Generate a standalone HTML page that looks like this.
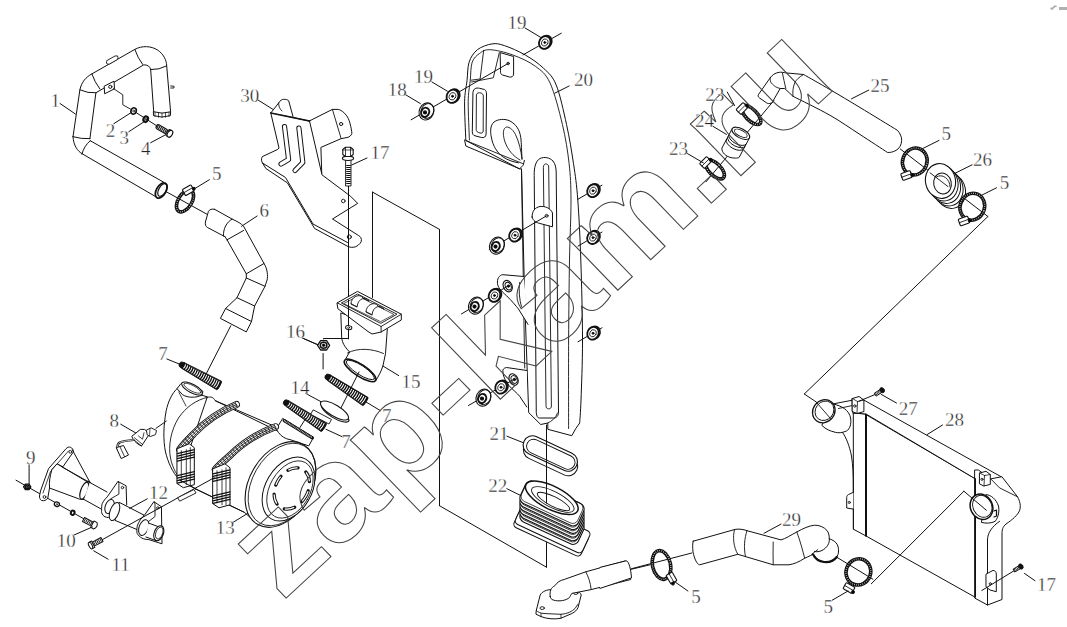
<!DOCTYPE html>
<html><head><meta charset="utf-8"><style>
html,body{margin:0;padding:0;background:#fff;width:1067px;height:627px;overflow:hidden}
svg{display:block}
</style></head><body>
<svg width="1067" height="627" viewBox="0 0 1067 627">
<rect width="1067" height="627" fill="#fff"/>
<g stroke="#111" fill="none" stroke-linejoin="round" stroke-linecap="round">
<line x1="60" y1="103.5" x2="75.4" y2="114" stroke-width="1"/>
<line x1="113.8" y1="123.7" x2="130.8" y2="112.8" stroke-width="1"/>
<line x1="128.8" y1="131.7" x2="145.7" y2="120.7" stroke-width="1"/>
<line x1="150.7" y1="142.7" x2="165.7" y2="134.7" stroke-width="1"/>
<line x1="209.4" y1="179.7" x2="190.7" y2="191.1" stroke-width="1"/>
<line x1="257.1" y1="216" x2="241.5" y2="226.3" stroke-width="1"/>
<line x1="258" y1="100" x2="274" y2="110" stroke-width="1"/>
<line x1="367" y1="158" x2="351.7" y2="165" stroke-width="1"/>
<line x1="302.3" y1="338" x2="318.8" y2="345.2" stroke-width="1"/>
<line x1="166.9" y1="359" x2="182.9" y2="365.5" stroke-width="1"/>
<line x1="304.4" y1="338.9" x2="318.8" y2="345.2" stroke-width="1"/>
<line x1="305.8" y1="393.5" x2="321.6" y2="402" stroke-width="1"/>
<line x1="380.5" y1="410.7" x2="366.1" y2="402" stroke-width="1"/>
<line x1="326" y1="429.3" x2="341.7" y2="436.5" stroke-width="1"/>
<path d="M73,136.7 L79.9,89.8 C81.5,82 86,77 91.9,73.9 L134.8,49.4 C142,45.5 151,45.8 157.5,50 C163.5,54 166.5,60 166.7,65.9 L170.6,111.8" stroke-width="1" fill="none" />
<path d="M153.7,111.8 L150.7,69.9 C150.2,66.5 147.5,64.6 143.7,64.9 L95.9,92.8 L89.9,138.7" stroke-width="1" fill="none" />
<path d="M73,136.7 C73.5,145 77,151 82.9,154.2 L157.5,197.7" stroke-width="1" fill="none" />
<path d="M90.2,140.7 L163.7,182.2" stroke-width="1" fill="none" />
<path d="M79.9,89.8 Q88,93.5 95.9,92.8" stroke-width="1" fill="none" />
<path d="M91.9,73.9 Q94.5,82 99.9,89" stroke-width="1" fill="none" />
<path d="M134.8,49.4 Q137.5,57.5 142.7,64.5" stroke-width="1" fill="none" />
<path d="M150.7,69.6 Q159,70 166.7,65.9" stroke-width="1" fill="none" />
<path d="M73,136.7 Q81,139 89.9,138.7" stroke-width="1" fill="none" />
<path d="M90.2,140.7 Q84,146 81.9,154.2" stroke-width="1" fill="none" />
<ellipse cx="161.2" cy="190.5" rx="4.8" ry="8.4" transform="rotate(30 161.2 190.5)" stroke-width="1.8" fill="#fff" />
<ellipse cx="162.4" cy="189.9" rx="3.6" ry="7" transform="rotate(30 162.4 189.9)" stroke-width="1.2" fill="none" />
<path d="M153.7,111.8 Q162,114.5 170.6,111.8 L170.4,115.6 Q162,118.5 153.9,115.8 Z" stroke-width="1" fill="#fff" />
<line x1="155.0" y1="112.5" x2="155.0" y2="116.5" stroke-width="0.7"/>
<line x1="158.5" y1="113.1" x2="158.5" y2="117.3" stroke-width="0.7"/>
<line x1="162.0" y1="113.1" x2="162.0" y2="117.3" stroke-width="0.7"/>
<line x1="165.5" y1="113.1" x2="165.5" y2="117.3" stroke-width="0.7"/>
<line x1="169.0" y1="112.5" x2="169.0" y2="116.5" stroke-width="0.7"/>
<path d="M170.6,86 L174,86.2 L174,88 L170.7,88" stroke-width="0.9" fill="none" />
<path d="M107,60.5 L115,56 Q118.5,55 118,57.5 L117.5,59.5 L109.5,64 Q106,65 106.5,62 Z" stroke-width="0.9" fill="#fff" />
<path d="M104.5,86 L114,81.2 L114.5,88.8 L105,93.6 Z" stroke-width="1" fill="#fff" />
<circle cx="110.3" cy="86.8" r="1.6" stroke-width="1" fill="none"/>
<path d="M113.5,88.6 L122.8,94.8 L122.8,104.8 L131.8,109.8" stroke-width="0.9" fill="none" />
<line x1="131.8" y1="109.8" x2="157" y2="126" stroke-width="1"/>
<ellipse cx="133.6" cy="111" rx="2.6" ry="3.2" transform="rotate(20 133.6 111)" stroke-width="1.6" fill="#fff" />
<circle cx="133.6" cy="111" r="0.9" stroke-width="0.8" fill="none"/>
<ellipse cx="145.7" cy="119.2" rx="2.2" ry="2.8" transform="rotate(20 145.7 119.2)" stroke-width="2.2" fill="#fff" />
<circle cx="145.7" cy="119.2" r="0.7" stroke-width="0.8" fill="none"/>
<g transform="translate(156.5 126) rotate(30)"><rect x="0" y="-2.2" width="12" height="4.4" rx="1.5" fill="#fff" stroke-width="1.1"/><line x1="0.8" y1="0" x2="11.5" y2="0" stroke-width="3.4" stroke-dasharray="1.1 0.7" stroke-linecap="butt"/><ellipse cx="14" cy="0" rx="2" ry="3.6" fill="#fff" stroke-width="1"/><ellipse cx="15.5" cy="0" rx="2.4" ry="3.7" fill="#fff" stroke-width="1.2"/></g>
<line x1="165.8" y1="191.5" x2="208.4" y2="215" stroke-width="1"/>
<ellipse cx="185" cy="201" rx="6.8" ry="12" transform="rotate(32 185 201)" stroke-width="3.6" fill="none" />
<ellipse cx="185" cy="201" rx="6.8" ry="12" transform="rotate(32 185 201)" stroke-width="1.3" fill="none" stroke="#fff" stroke-dasharray="0.6 1.5" stroke-linecap="butt"/>
<g transform="translate(188.2 190.2) rotate(-30)"><rect x="-5" y="-3.5" width="10" height="7" rx="1" fill="#fff" stroke-width="1.1"/><line x1="-5" y1="0" x2="5" y2="0" stroke-width="0.8"/><circle cx="5.5" cy="1.5" r="1.4" fill="#000"/></g>
<path d="M214.6,209.3 C212,208.5 209.5,209.5 208.4,211.5 L205.4,222 C205,224.5 205.8,226.5 207.3,227.4 L225,236.7" stroke-width="1" fill="#fff" />
<path d="M214.6,209.3 L232.2,219.1 C237.5,221.5 241.5,223.8 243.6,226.3 L264,263.5 C267.5,269 268,276 267.1,280 L265,286.3 L254.6,306 L251.5,321.5 L246.3,331.9 L220.4,318.4 L225.6,308.5 L237,297.7 L246.3,278 L246.3,273.8 L227,239.8 L225,236.7" stroke-width="1" fill="none" />
<path d="M232.2,219.1 C226.5,222 223,229 223.5,236" stroke-width="1" fill="none" />
<line x1="227" y1="239.8" x2="243.6" y2="230.5" stroke-width="1"/>
<line x1="246.3" y1="273.8" x2="264" y2="263.5" stroke-width="1"/>
<line x1="246.3" y1="278" x2="265" y2="286.3" stroke-width="1"/>
<line x1="237" y1="297.7" x2="254.6" y2="306" stroke-width="1"/>
<line x1="225.6" y1="308.5" x2="251.5" y2="321.5" stroke-width="1"/>
<line x1="230.8" y1="325.7" x2="205.9" y2="374.4" stroke-width="1"/>
<path d="M270.8,113 L279,148 L277.8,149.4 L262.3,156.6 C261,158.5 261.5,162 262.5,163 L265.9,168.5 L287.4,182.9 L314.6,228.5 L348,246.5 C353,248.5 358,247 361.2,241.7 C362,238.5 360.5,236.5 358.5,235.5 L332.5,219 L357.7,203.4 L350.5,196.2 L321.8,174.7 L320.9,147.4 L341,138.7 L348.1,137.3 C351,136 352.5,134 351.7,131.6 C350.5,124 349,119 346.7,115.8 C344,112 341,110 338.2,109.4 L332.4,109.4 L309.5,120.9 Z" stroke-width="1" fill="#fff" />
<path d="M262.5,163 L285.5,177.5 L313,224 L347.5,242.5" stroke-width="1" fill="none" />
<path d="M270.8,113 L278.7,102.9 C280,100.5 282,99.3 283.7,99.3 C286,99.3 288,99.8 288.7,100.8 L293,116.6" stroke-width="1" fill="#fff" />
<path d="M278.7,102.9 C278.5,106 279.5,109 282,111" stroke-width="0.9" fill="none" />
<line x1="270.8" y1="113" x2="309.5" y2="120.9" stroke-width="1.5"/>
<line x1="332.4" y1="109.4" x2="341" y2="138.1" stroke-width="0.9"/>
<circle cx="341.1" cy="124" r="1.6" stroke-width="1" fill="none"/>
<line x1="309.5" y1="120.9" x2="321.6" y2="173.2" stroke-width="1"/>
<path d="M284.5,126.5 L288.6,159.5 L281,164" stroke-width="5.2" fill="none" stroke-linejoin="round"/>
<path d="M284.5,126.5 L288.6,159.5 L281,164" stroke-width="3.2" fill="none" stroke="#fff" stroke-linejoin="round"/>
<path d="M298.9,128 L302.8,162.5 L295,170.5" stroke-width="5.2" fill="none" stroke-linejoin="round"/>
<path d="M298.9,128 L302.8,162.5 L295,170.5" stroke-width="3.2" fill="none" stroke="#fff" stroke-linejoin="round"/>
<circle cx="343.3" cy="201" r="1.8" stroke-width="0.9" fill="none"/>
<circle cx="349.3" cy="236.9" r="2" stroke-width="1" fill="none"/>
<line x1="348.5" y1="185.5" x2="348.5" y2="338.9" stroke-width="1"/>
<g><rect x="346" y="159" width="5" height="27" fill="#fff" stroke-width="0.9"/><line x1="348.5" y1="165" x2="348.5" y2="185" stroke-width="4.5" stroke-dasharray="1 1" stroke-linecap="butt"/><ellipse cx="348" cy="158.3" rx="5.6" ry="2.2" fill="#fff" stroke-width="1.1"/><path d="M342.8,149.5 L345.5,147.3 L350.5,147.3 L353.2,149.5 L353.2,154.5 L350.5,156.5 L345.5,156.5 L342.8,154.5 Z" fill="#fff" stroke-width="1.1"/><line x1="345.5" y1="147.5" x2="345.5" y2="156.3" stroke-width="0.8"/><line x1="350.5" y1="147.5" x2="350.5" y2="156.3" stroke-width="0.8"/><line x1="342.8" y1="150" x2="353.2" y2="150" stroke-width="0.7"/></g>
<path d="M340.8,313.3 L341.7,337.9 C342.5,343 344,346 349.6,352 L344.5,361 C343.5,364 347,368 352,371.5 C360,377 370,380.5 375.9,380.5 C378.5,376 381,372 382.9,366 L385.5,353.7 L387.3,329.1 Z" stroke-width="1" fill="#fff" />
<ellipse cx="360.1" cy="370.4" rx="18.5" ry="6" transform="rotate(33 360.1 370.4)" stroke-width="1.6" fill="#fff" />
<ellipse cx="360.4" cy="370" rx="16.5" ry="4.6" transform="rotate(33 360.4 370)" stroke-width="0.9" fill="none" />
<path d="M347.5,353 C358,347.5 372,348.5 383.5,353.5" stroke-width="0.9" fill="none" />
<path d="M337.3,302.8 L357.5,291.4 L401.3,314.2 L401.3,320 L381.1,332 L372,334 L368,331.5 L338.2,309 Z" stroke-width="1" fill="#fff" />
<path d="M337.3,302.8 L381.1,326.5 L401.3,314.2" stroke-width="0.9" fill="none" />
<line x1="381.1" y1="326.5" x2="381.1" y2="332" stroke-width="0.9"/>
<path d="M341.7,302.8 L357.5,294 L397,314.2 L381.1,323.2 Z" stroke-width="0.9" fill="none" />
<path d="M344,303.5 L358,296 L394,314.5 L381,321.5 Z" stroke-width="0.7" fill="none" />
<path d="M351,303.7 C351,296.5 360,293.0 363,298.0 L369,301.3 C366,296.5 358,297.5 357,306.7 Z" stroke-width="0.9" fill="#fff" />
<path d="M351,303.7 L357,306.7" stroke-width="0.8" fill="none" />
<path d="M366,311.7 C366,304.5 375,301.0 378,306.0 L384,309.3 C381,304.5 373,305.5 372,314.7 Z" stroke-width="0.9" fill="#fff" />
<path d="M366,311.7 L372,314.7" stroke-width="0.8" fill="none" />
<line x1="348.5" y1="300" x2="348.5" y2="338.9" stroke-width="1"/>
<ellipse cx="348.7" cy="327.6" rx="3.2" ry="2" transform="rotate(10 348.7 327.6)" stroke-width="1" fill="#fff" />
<circle cx="348.7" cy="327.6" r="0.9" stroke-width="0.8" fill="none"/>
<path d="M323.6,338.5 L348.5,338.5" stroke-width="1" fill="none" />
<line x1="372.5" y1="192.1" x2="372.5" y2="297.5" stroke-width="1"/>
<path d="M329.6,345.3 L326.6,350.0 L320.6,350.0 L317.6,345.3 L320.6,340.6 L326.6,340.6 Z" stroke-width="1.3" fill="#fff" />
<ellipse cx="323.6" cy="345.3" rx="3.3000000000000003" ry="3.0" transform="rotate(0 323.6 345.3)" stroke-width="1.5" fill="#fff" />
<circle cx="323.6" cy="345.3" r="1.2000000000000002" stroke-width="1" fill="#000"/>
<line x1="323.1" y1="353.5" x2="323.1" y2="369" stroke-width="1"/>
<line x1="323.6" y1="339" x2="323.6" y2="338.9" stroke-width="1"/>
<g transform="translate(182.9 365.5) rotate(28.87)"><path d="M0,-3.1 L41.251153830398515,-4.9 Q42.251153830398515,-4.9 42.251153830398515,0 Q42.251153830398515,4.9 41.251153830398515,4.9 L0,3.1 Q-4.1,3.1 -4.1,0 Q-4.1,-3.1 0,-3.1 Z" fill="#111" stroke-width="0.8"/><path d="M1.85,-2.30 Q2.75,0 1.85,2.30" stroke="#fff" stroke-width="1.0" fill="none" stroke-linecap="butt"/><path d="M4.19,-2.40 Q5.09,0 4.19,2.40" stroke="#fff" stroke-width="1.0" fill="none" stroke-linecap="butt"/><path d="M6.54,-2.50 Q7.44,0 6.54,2.50" stroke="#fff" stroke-width="1.0" fill="none" stroke-linecap="butt"/><path d="M8.89,-2.60 Q9.79,0 8.89,2.60" stroke="#fff" stroke-width="1.0" fill="none" stroke-linecap="butt"/><path d="M11.24,-2.70 Q12.14,0 11.24,2.70" stroke="#fff" stroke-width="1.0" fill="none" stroke-linecap="butt"/><path d="M13.58,-2.80 Q14.48,0 13.58,2.80" stroke="#fff" stroke-width="1.0" fill="none" stroke-linecap="butt"/><path d="M15.93,-2.90 Q16.83,0 15.93,2.90" stroke="#fff" stroke-width="1.0" fill="none" stroke-linecap="butt"/><path d="M18.28,-3.00 Q19.18,0 18.28,3.00" stroke="#fff" stroke-width="1.0" fill="none" stroke-linecap="butt"/><path d="M20.63,-3.10 Q21.53,0 20.63,3.10" stroke="#fff" stroke-width="1.0" fill="none" stroke-linecap="butt"/><path d="M22.97,-3.20 Q23.87,0 22.97,3.20" stroke="#fff" stroke-width="1.0" fill="none" stroke-linecap="butt"/><path d="M25.32,-3.30 Q26.22,0 25.32,3.30" stroke="#fff" stroke-width="1.0" fill="none" stroke-linecap="butt"/><path d="M27.67,-3.40 Q28.57,0 27.67,3.40" stroke="#fff" stroke-width="1.0" fill="none" stroke-linecap="butt"/><path d="M30.01,-3.50 Q30.91,0 30.01,3.50" stroke="#fff" stroke-width="1.0" fill="none" stroke-linecap="butt"/><path d="M32.36,-3.60 Q33.26,0 32.36,3.60" stroke="#fff" stroke-width="1.0" fill="none" stroke-linecap="butt"/><path d="M34.71,-3.70 Q35.61,0 34.71,3.70" stroke="#fff" stroke-width="1.0" fill="none" stroke-linecap="butt"/><path d="M37.06,-3.80 Q37.96,0 37.06,3.80" stroke="#fff" stroke-width="1.0" fill="none" stroke-linecap="butt"/><path d="M39.40,-3.90 Q40.30,0 39.40,3.90" stroke="#fff" stroke-width="1.0" fill="none" stroke-linecap="butt"/></g>
<g transform="translate(328.8 377.7) rotate(33.08)"><path d="M0,-3.1 L43.517187691946596,-4.9 Q44.517187691946596,-4.9 44.517187691946596,0 Q44.517187691946596,4.9 43.517187691946596,4.9 L0,3.1 Q-4.1,3.1 -4.1,0 Q-4.1,-3.1 0,-3.1 Z" fill="#111" stroke-width="0.8"/><path d="M1.84,-2.29 Q2.74,0 1.84,2.29" stroke="#fff" stroke-width="1.0" fill="none" stroke-linecap="butt"/><path d="M4.19,-2.39 Q5.09,0 4.19,2.39" stroke="#fff" stroke-width="1.0" fill="none" stroke-linecap="butt"/><path d="M6.53,-2.48 Q7.43,0 6.53,2.48" stroke="#fff" stroke-width="1.0" fill="none" stroke-linecap="butt"/><path d="M8.87,-2.58 Q9.77,0 8.87,2.58" stroke="#fff" stroke-width="1.0" fill="none" stroke-linecap="butt"/><path d="M11.22,-2.67 Q12.12,0 11.22,2.67" stroke="#fff" stroke-width="1.0" fill="none" stroke-linecap="butt"/><path d="M13.56,-2.77 Q14.46,0 13.56,2.77" stroke="#fff" stroke-width="1.0" fill="none" stroke-linecap="butt"/><path d="M15.90,-2.86 Q16.80,0 15.90,2.86" stroke="#fff" stroke-width="1.0" fill="none" stroke-linecap="butt"/><path d="M18.24,-2.96 Q19.14,0 18.24,2.96" stroke="#fff" stroke-width="1.0" fill="none" stroke-linecap="butt"/><path d="M20.59,-3.05 Q21.49,0 20.59,3.05" stroke="#fff" stroke-width="1.0" fill="none" stroke-linecap="butt"/><path d="M22.93,-3.15 Q23.83,0 22.93,3.15" stroke="#fff" stroke-width="1.0" fill="none" stroke-linecap="butt"/><path d="M25.27,-3.24 Q26.17,0 25.27,3.24" stroke="#fff" stroke-width="1.0" fill="none" stroke-linecap="butt"/><path d="M27.62,-3.34 Q28.52,0 27.62,3.34" stroke="#fff" stroke-width="1.0" fill="none" stroke-linecap="butt"/><path d="M29.96,-3.43 Q30.86,0 29.96,3.43" stroke="#fff" stroke-width="1.0" fill="none" stroke-linecap="butt"/><path d="M32.30,-3.53 Q33.20,0 32.30,3.53" stroke="#fff" stroke-width="1.0" fill="none" stroke-linecap="butt"/><path d="M34.65,-3.62 Q35.55,0 34.65,3.62" stroke="#fff" stroke-width="1.0" fill="none" stroke-linecap="butt"/><path d="M36.99,-3.72 Q37.89,0 36.99,3.72" stroke="#fff" stroke-width="1.0" fill="none" stroke-linecap="butt"/><path d="M39.33,-3.81 Q40.23,0 39.33,3.81" stroke="#fff" stroke-width="1.0" fill="none" stroke-linecap="butt"/><path d="M41.67,-3.91 Q42.57,0 41.67,3.91" stroke="#fff" stroke-width="1.0" fill="none" stroke-linecap="butt"/></g>
<g transform="translate(287.2 403.5) rotate(33.19)"><path d="M0,-3.1 L43.57185210421483,-4.9 Q44.57185210421483,-4.9 44.57185210421483,0 Q44.57185210421483,4.9 43.57185210421483,4.9 L0,3.1 Q-4.1,3.1 -4.1,0 Q-4.1,-3.1 0,-3.1 Z" fill="#111" stroke-width="0.8"/><path d="M1.85,-2.29 Q2.75,0 1.85,2.29" stroke="#fff" stroke-width="1.0" fill="none" stroke-linecap="butt"/><path d="M4.19,-2.39 Q5.09,0 4.19,2.39" stroke="#fff" stroke-width="1.0" fill="none" stroke-linecap="butt"/><path d="M6.54,-2.48 Q7.44,0 6.54,2.48" stroke="#fff" stroke-width="1.0" fill="none" stroke-linecap="butt"/><path d="M8.88,-2.58 Q9.78,0 8.88,2.58" stroke="#fff" stroke-width="1.0" fill="none" stroke-linecap="butt"/><path d="M11.23,-2.67 Q12.13,0 11.23,2.67" stroke="#fff" stroke-width="1.0" fill="none" stroke-linecap="butt"/><path d="M13.58,-2.77 Q14.48,0 13.58,2.77" stroke="#fff" stroke-width="1.0" fill="none" stroke-linecap="butt"/><path d="M15.92,-2.86 Q16.82,0 15.92,2.86" stroke="#fff" stroke-width="1.0" fill="none" stroke-linecap="butt"/><path d="M18.27,-2.96 Q19.17,0 18.27,2.96" stroke="#fff" stroke-width="1.0" fill="none" stroke-linecap="butt"/><path d="M20.61,-3.05 Q21.51,0 20.61,3.05" stroke="#fff" stroke-width="1.0" fill="none" stroke-linecap="butt"/><path d="M22.96,-3.15 Q23.86,0 22.96,3.15" stroke="#fff" stroke-width="1.0" fill="none" stroke-linecap="butt"/><path d="M25.30,-3.24 Q26.20,0 25.30,3.24" stroke="#fff" stroke-width="1.0" fill="none" stroke-linecap="butt"/><path d="M27.65,-3.34 Q28.55,0 27.65,3.34" stroke="#fff" stroke-width="1.0" fill="none" stroke-linecap="butt"/><path d="M30.00,-3.43 Q30.90,0 30.00,3.43" stroke="#fff" stroke-width="1.0" fill="none" stroke-linecap="butt"/><path d="M32.34,-3.53 Q33.24,0 32.34,3.53" stroke="#fff" stroke-width="1.0" fill="none" stroke-linecap="butt"/><path d="M34.69,-3.62 Q35.59,0 34.69,3.62" stroke="#fff" stroke-width="1.0" fill="none" stroke-linecap="butt"/><path d="M37.03,-3.72 Q37.93,0 37.03,3.72" stroke="#fff" stroke-width="1.0" fill="none" stroke-linecap="butt"/><path d="M39.38,-3.81 Q40.28,0 39.38,3.81" stroke="#fff" stroke-width="1.0" fill="none" stroke-linecap="butt"/><path d="M41.73,-3.91 Q42.63,0 41.73,3.91" stroke="#fff" stroke-width="1.0" fill="none" stroke-linecap="butt"/></g>
<line x1="359" y1="372" x2="336" y2="417.9" stroke-width="1"/>
<path d="M320.8,402.3 L321.6,404.3 A16,5.6 31 0 0 349.1,420.8 L348.3,418.8 Z" stroke-width="1.1" fill="#fff" />
<ellipse cx="334.5" cy="410.5" rx="16" ry="5.6" transform="rotate(31 334.5 410.5)" stroke-width="1.1" fill="#fff" />
<path d="M313.5,410 L331.5,419.5 L329,424 L311,414.5 Z" stroke-width="0.9" fill="#fff" />
<line x1="382.9" y1="366" x2="398.7" y2="375.6" stroke-width="1"/>
<path d="M177.3,388.4 C172,393 168,402 166.2,410.7 C163.5,425 163,440 165.5,452 C168,462 172,472 179.6,480 L196,489 L207.5,397.3 Z" stroke-width="1" fill="#fff" />
<path d="M207.5,397.3 C196,400 186,407 178.5,418 C171,430 168,446 170.5,458 C172.5,468 177,476 183,482" stroke-width="0.9" fill="none" />
<path d="M207.5,397.3 C211,396.5 213,397 215.3,400.7 L288,436 L300,443 L258,524 L244.3,512.3 L196,489 C190,486 183,482 179.6,480 Z" stroke-width="1" fill="#fff" />
<line x1="215.3" y1="400.7" x2="274.9" y2="426.4" stroke-width="1"/>
<line x1="195.2" y1="488.9" x2="244.3" y2="512.3" stroke-width="0.9"/>
<path d="M177.3,388.4 L181,383.5 C186,381 197,386 203,391.5 L201.9,395.1 C196,398 188,398 183,395 Z" stroke-width="1" fill="#fff" />
<ellipse cx="192" cy="388.5" rx="11.5" ry="4.2" transform="rotate(28 192 388.5)" stroke-width="1" fill="#fff" />
<ellipse cx="192.3" cy="388.3" rx="9.5" ry="2.8" transform="rotate(28 192.3 388.3)" stroke-width="0.7" fill="none" />
<line x1="178.8" y1="392" x2="186" y2="406" stroke-width="0.8"/>
<path d="M283,418.6 L313.5,437.3 L308.8,445.9 C300,443 292,440 286.5,438.7 C282,437 279,434 276.5,429.4 Z" stroke-width="1" fill="#fff" />
<path d="M284.2,420.6 L312.3,437.8" stroke-width="3.2" fill="none" />
<path d="M284.2,420.6 L312.3,437.8" stroke-width="1.6" fill="none" stroke="#fff" stroke-dasharray="0.6 0.9" stroke-linecap="butt"/>
<line x1="300" y1="427.5" x2="305.5" y2="418.8" stroke-width="1"/>
<ellipse cx="280.5" cy="484.5" rx="31" ry="46" transform="rotate(30 280.5 484.5)" stroke-width="1.1" fill="#fff" />
<ellipse cx="282" cy="484.5" rx="29.5" ry="44.5" transform="rotate(30 282 484.5)" stroke-width="0.8" fill="none" />
<ellipse cx="288.5" cy="489" rx="23" ry="34.5" transform="rotate(30 288.5 489)" stroke-width="1" fill="#fff" />
<ellipse cx="290" cy="489.5" rx="20" ry="31" transform="rotate(30 290 489.5)" stroke-width="0.8" fill="none" />
<ellipse cx="291.8" cy="488.5" rx="16" ry="22" transform="rotate(30 291.8 488.5)" stroke-width="3.2" fill="none" stroke-dasharray="10.5 9" stroke-dashoffset="4"/>
<ellipse cx="291.8" cy="488.5" rx="16" ry="22" transform="rotate(30 291.8 488.5)" stroke-width="1.3" fill="none" stroke="#fff" stroke-dasharray="9.5 10" stroke-dashoffset="3.5" stroke-linecap="butt"/>
<path d="M236.5,404.5 C222,410.5 205,421.5 193,434.5 C186,441.5 182,446 179.6,449.5" stroke-width="7" fill="none" />
<path d="M236.5,404.5 C222,410.5 205,421.5 193,434.5 C186,441.5 182,446 179.6,449.5" stroke-width="5.2" fill="none" stroke="#fff"/>
<path d="M236.5,404.5 C222,410.5 205,421.5 193,434.5 C186,441.5 182,446 179.6,449.5" stroke-width="5.2" fill="none" stroke-dasharray="0.8 2.6" stroke-linecap="butt" stroke-opacity="0.85"/>
<path d="M236.5,404.5 C222,410.5 205,421.5 193,434.5 C186,441.5 182,446 179.6,449.5" stroke-width="0.9" fill="none" />
<path d="M236.5,404.5 C222,410.5 205,421.5 193,434.5 C186,441.5 182,446 179.6,449.5" stroke-width="0.8" fill="none" transform="translate(1.2 1.3)"/>
<path d="M236.5,404.5 C222,410.5 205,421.5 193,434.5 C186,441.5 182,446 179.6,449.5" stroke-width="0.8" fill="none" transform="translate(-1.2 -1.3)"/>
<path d="M275.5,426.8 C260,432.5 243,442.5 230,455.5 C222,462.5 218,466 215.3,469.5" stroke-width="7" fill="none" />
<path d="M275.5,426.8 C260,432.5 243,442.5 230,455.5 C222,462.5 218,466 215.3,469.5" stroke-width="5.2" fill="none" stroke="#fff"/>
<path d="M275.5,426.8 C260,432.5 243,442.5 230,455.5 C222,462.5 218,466 215.3,469.5" stroke-width="5.2" fill="none" stroke-dasharray="0.8 2.6" stroke-linecap="butt" stroke-opacity="0.85"/>
<path d="M275.5,426.8 C260,432.5 243,442.5 230,455.5 C222,462.5 218,466 215.3,469.5" stroke-width="0.9" fill="none" />
<path d="M275.5,426.8 C260,432.5 243,442.5 230,455.5 C222,462.5 218,466 215.3,469.5" stroke-width="0.8" fill="none" transform="translate(1.2 1.3)"/>
<path d="M275.5,426.8 C260,432.5 243,442.5 230,455.5 C222,462.5 218,466 215.3,469.5" stroke-width="0.8" fill="none" transform="translate(-1.2 -1.3)"/>
<g transform="translate(177.3 448.7)"><path d="M0,0 L12,-5 L17,-1 L17,36 L6,39 L0,35 Z" fill="#fff" stroke-width="1"/><line x1="4" y1="2" x2="4" y2="34" stroke-width="0.8"/><line x1="9" y1="1" x2="9" y2="36" stroke-width="0.8"/><line x1="13" y1="-1" x2="13" y2="36" stroke-width="0.8"/><line x1="0" y1="5" x2="17" y2="1" stroke-width="1.3"/><line x1="0" y1="7.5" x2="17" y2="3.5" stroke-width="1.3"/><line x1="0" y1="10" x2="17" y2="6" stroke-width="1.3"/><line x1="0" y1="12.5" x2="17" y2="8.5" stroke-width="1.3"/><line x1="0" y1="27" x2="17" y2="23" stroke-width="1.3"/><line x1="0" y1="29.5" x2="17" y2="25.5" stroke-width="1.3"/><line x1="0" y1="32" x2="17" y2="28" stroke-width="1.3"/><line x1="0" y1="34.5" x2="17" y2="30.5" stroke-width="1.3"/></g>
<g transform="translate(213 468.8)"><path d="M0,0 L12,-5 L17,-1 L17,36 L6,39 L0,35 Z" fill="#fff" stroke-width="1"/><line x1="4" y1="2" x2="4" y2="34" stroke-width="0.8"/><line x1="9" y1="1" x2="9" y2="36" stroke-width="0.8"/><line x1="13" y1="-1" x2="13" y2="36" stroke-width="0.8"/><line x1="0" y1="5" x2="17" y2="1" stroke-width="1.3"/><line x1="0" y1="7.5" x2="17" y2="3.5" stroke-width="1.3"/><line x1="0" y1="10" x2="17" y2="6" stroke-width="1.3"/><line x1="0" y1="12.5" x2="17" y2="8.5" stroke-width="1.3"/><line x1="0" y1="27" x2="17" y2="23" stroke-width="1.3"/><line x1="0" y1="29.5" x2="17" y2="25.5" stroke-width="1.3"/><line x1="0" y1="32" x2="17" y2="28" stroke-width="1.3"/><line x1="0" y1="34.5" x2="17" y2="30.5" stroke-width="1.3"/></g>
<line x1="179.6" y1="480" x2="196" y2="489" stroke-width="1"/>
<line x1="156" y1="428.3" x2="166.3" y2="421.1" stroke-width="1"/>
<line x1="120.7" y1="424.2" x2="135.8" y2="433" stroke-width="1"/>
<path d="M132.1,436.1 L140.4,429.4 L144.6,429.4 C147,431 148.5,433 148.7,435.1 L141.5,446 C138,444.5 135,442 133.2,439.2 Z" stroke-width="1" fill="#fff" />
<path d="M133.2,439.2 L141.5,446 M134.5,437.8 L142,444" stroke-width="0.8" fill="none" />
<path d="M138.5,436 L142.5,439.2 L144,432.8" stroke-width="0.8" fill="none" />
<path d="M146.7,430 L151,427.8 L156.5,430.5 L155.5,434.6 L150.5,436.5 L147.5,435 Z" stroke-width="0.9" fill="#fff" />
<line x1="150" y1="428.5" x2="149.5" y2="436" stroke-width="0.7"/>
<path d="M133.5,440 C128,440.5 122,441.5 119.7,442.5 C117.5,444 117.2,446.5 117.6,448.5" stroke-width="2.2" fill="none" />
<path d="M133.5,440 C128,440.5 122,441.5 119.7,442.5 C117.5,444 117.2,446.5 117.6,448.5" stroke-width="0.8" fill="none" stroke="#fff"/>
<path d="M116.6,447.5 L123.5,445.5 L128.5,455 L121.5,458.4 Z" stroke-width="1" fill="#fff" />
<line x1="120" y1="446.8" x2="124.5" y2="456.5" stroke-width="0.8"/>
<line x1="16" y1="480.2" x2="96.4" y2="526" stroke-width="1"/>
<line x1="29.1" y1="464.7" x2="29.1" y2="483.8" stroke-width="1"/>
<path d="M30.8,486.9 L29.0,489.7 L25.4,489.7 L23.6,486.9 L25.4,484.1 L29.0,484.1 Z" stroke-width="1.3" fill="#fff" />
<ellipse cx="27.2" cy="486.9" rx="1.9800000000000002" ry="1.8" transform="rotate(0 27.2 486.9)" stroke-width="1.5" fill="#fff" />
<circle cx="27.2" cy="486.9" r="0.7200000000000001" stroke-width="1" fill="#000"/>
<path d="M66.3,448.4 C67.5,447 69,446.8 70.5,447.3 C72,447.8 73.3,449.5 73.5,451.7 L62.9,466.8 L57.3,464 L51.7,470.1 L49.5,488 L47.8,498 C46.5,500.5 44,501 41.5,500.5 C40,499.5 39.3,497.5 39.5,496 L40.5,491 L48.4,469 Z" stroke-width="1" fill="#fff" />
<path d="M68.5,451 L50.5,471.5 L43,493" stroke-width="0.8" fill="none" />
<circle cx="70.3" cy="451.8" r="1.4" stroke-width="0.9" fill="none"/>
<circle cx="44.5" cy="497" r="1.4" stroke-width="0.9" fill="none"/>
<path d="M57.3,464 L86.4,481.3 L89.7,482.4 L84,499.5 L79.7,499.2 L49.5,488 C49,482 50,476 51.7,470.1 Z" stroke-width="1" fill="#fff" />
<line x1="61.8" y1="466.8" x2="89.7" y2="482.4" stroke-width="0.9"/>
<line x1="72.4" y1="450" x2="90.3" y2="483" stroke-width="1"/>
<ellipse cx="84.2" cy="490.6" rx="3.4" ry="9" transform="rotate(20 84.2 490.6)" stroke-width="1.2" fill="#fff" />
<path d="M86,482.5 A3.4,9 20 0 1 85.5,499" stroke-width="0.8" fill="none" />
<path d="M89.7,482.4 L105,491.4 L100.9,509.2 L84,499.5 Z" stroke-width="0.001" fill="#fff" />
<line x1="89.7" y1="482.4" x2="107" y2="492" stroke-width="1"/>
<line x1="84" y1="499.5" x2="103" y2="510" stroke-width="1"/>
<path d="M118.3,481.6 L126.1,485.8 L126.7,504.9 L114,512 C111,517 109.5,517.5 108.2,517.5 C105.5,517.3 104,516.5 103.4,515.7 C101.5,513.5 101.3,511.5 101.6,510.9 C101.5,507 101.8,505 102.2,503.7 C103.5,501 105,499 107,497.1 Z" stroke-width="1" fill="#fff" />
<path d="M118.3,481.6 L118.9,483.4 L118.9,494.1 L110.6,498.9" stroke-width="0.9" fill="none" />
<ellipse cx="109.6" cy="506.5" rx="4.3" ry="7.3" transform="rotate(20 109.6 506.5)" stroke-width="1" fill="#fff" />
<circle cx="122.5" cy="487.6" r="1.2" stroke-width="0.9" fill="none"/>
<path d="M119.5,502.5 L144,515.1 L138.1,530 L115.3,520.5 Z" stroke-width="1" fill="#fff" />
<ellipse cx="114.5" cy="511.5" rx="4.4" ry="9.5" transform="rotate(20 114.5 511.5)" stroke-width="1" fill="#fff" />
<path d="M154.2,501.9 L161.4,506.7 L162,543.8 L148.8,539.6 C145,539.5 142,538.5 140.5,537.2 C138.5,535.5 137,534 136.9,532.4 C136.8,529 137,527 137.5,525.2 C139,521 141.5,518 144,515.7 Z" stroke-width="1" fill="#fff" />
<path d="M154.2,501.9 L155,504 L155,516.5 L148,522" stroke-width="0.9" fill="none" />
<ellipse cx="143.7" cy="527.6" rx="4.6" ry="8.2" transform="rotate(20 143.7 527.6)" stroke-width="1" fill="#fff" />
<circle cx="157.8" cy="507.9" r="1.2" stroke-width="0.9" fill="none"/>
<path d="M148.5,523 L160.5,527.5 A5,8.2 20 0 1 157,541 L146,537" stroke-width="1" fill="#fff" />
<ellipse cx="158.8" cy="533.2" rx="4.6" ry="7.8" transform="rotate(20 158.8 533.2)" stroke-width="1.1" fill="#fff" />
<ellipse cx="159.3" cy="533" rx="3.4" ry="6.2" transform="rotate(20 159.3 533)" stroke-width="0.8" fill="none" />
<ellipse cx="56.9" cy="504.2" rx="2.6" ry="2.2" transform="rotate(20 56.9 504.2)" stroke-width="1.3" fill="#fff" />
<circle cx="56.9" cy="504.2" r="0.6" stroke-width="0.7" fill="none"/>
<ellipse cx="72.7" cy="512.8" rx="1.8" ry="2.2" transform="rotate(20 72.7 512.8)" stroke-width="2" fill="#fff" />
<g transform="translate(83.5 519.5) rotate(28)"><rect x="0" y="-2.2" width="10" height="4.4" fill="#fff" stroke-width="1"/><line x1="1" y1="0" x2="9.5" y2="0" stroke-width="3.2" stroke-dasharray="0.9 0.9" stroke-linecap="butt"/><path d="M10,-3.6 L13.5,-3.6 Q16.5,0 13.5,3.6 L10,3.6 Z" fill="#fff" stroke-width="1"/></g>
<line x1="73.4" y1="535.3" x2="92.5" y2="526.9" stroke-width="1"/>
<line x1="101.7" y1="540" x2="214.2" y2="477.7" stroke-width="1"/>
<g transform="translate(102 539.5) rotate(152)"><rect x="0" y="-2.2" width="10" height="4.4" fill="#fff" stroke-width="1"/><line x1="1" y1="0" x2="9.5" y2="0" stroke-width="3.2" stroke-dasharray="0.9 0.9" stroke-linecap="butt"/><path d="M10,-3.6 L12.5,-3.6 Q15.5,0 12.5,3.6 L10,3.6 Z" fill="#fff" stroke-width="1"/><ellipse cx="13" cy="0" rx="1.6" ry="3.6" fill="#fff" stroke-width="1"/></g>
<line x1="108.1" y1="559.2" x2="93.7" y2="550.8" stroke-width="1"/>
<line x1="129.7" y1="508.4" x2="147.3" y2="498.8" stroke-width="1"/>
<path d="M465.8,140.0 C465.6,133.6 464.4,111.7 464.6,101.8 C464.8,91.9 466.2,87.4 467.0,80.8 C467.8,74.2 467.4,67.4 469.1,62.2 C470.8,57.0 473.6,52.8 477.4,49.7 C481.2,46.7 487.5,44.6 492.0,43.9 C496.5,43.2 498.9,43.8 504.4,45.6 C509.9,47.4 518.5,51.1 525.1,54.9 C531.7,58.7 538.5,63.4 543.7,68.4 C548.9,73.4 552.4,75.7 556.2,85.0 C560.0,94.3 563.6,111.3 566.5,124.4 C569.4,137.5 571.6,151.0 573.5,163.6 C575.4,176.2 576.6,183.9 577.8,200.0 C579.0,216.1 580.0,236.7 580.8,260.0 C581.6,283.3 582.5,316.7 582.5,340.0 C582.5,363.3 581.5,386.2 581.0,400.0 C580.5,413.8 579.9,419.2 579.7,423.0 L575.8,428.5 L571.8,435.7 L547.8,429.3 L547.8,423 L540.7,424.5 L528.7,412.6 L524.7,300 L521.5,169 L519.6,168.8 Z" stroke-width="1" fill="#fff" />
<path d="M469.4,140.0 C469.2,133.6 468.1,111.7 468.2,101.8 C468.3,91.9 469.5,87.4 470.2,80.8 C470.9,74.2 470.6,66.8 472.2,62.2 C473.8,57.7 476.6,55.6 479.5,53.5 C482.4,51.4 484.3,49.5 489.8,49.7 C495.3,49.9 505.0,52.1 512.6,54.9 C520.2,57.7 529.2,61.6 535.4,66.3 C541.6,71.0 545.5,73.2 550.0,82.9 C554.5,92.6 559.2,111.0 562.4,124.4 C565.6,137.8 567.7,151.0 569.1,163.6 C570.5,176.2 570.9,183.9 571.0,200.0 C571.1,216.1 569.9,236.7 569.5,260.0 C569.1,283.3 568.8,311.9 568.6,340.0 C568.5,368.1 568.6,413.8 568.6,428.5" stroke-width="0.9" fill="none" />
<path d="M464.6,140 L465.8,146 L519.6,168.8 L523.2,165.2 L524.4,160.4" stroke-width="1" fill="none" />
<line x1="465.8" y1="140.5" x2="522.5" y2="163.5" stroke-width="0.9"/>
<path d="M473,92 C473.5,88.5 476,87.5 479.5,88.3 L484.5,89.5 C486,90.5 486.5,92 486.5,94 L486.1,134 C486,137 484,138 481.5,137.5 L475,135.8 C473,135.2 472.3,134 472.3,132 Z" stroke-width="1" fill="none" />
<path d="M476.5,94.5 C477,92.5 479,92.5 481,93 C482.5,93.5 483.3,94.5 483.3,96 L483.2,131 C483.2,132.8 481.5,133.5 480,133 C477.5,132.3 476.2,131.5 476.2,130 Z" stroke-width="0.9" fill="none" />
<path d="M522,159.2 C521.5,150 521.5,144 520.8,137.7 C519.5,129 516,124.5 510,121 C505,118.5 498,119 494,122 C490,125.5 490.2,132 491.5,138 C493,146 497,152.5 502.8,156.8 C508,160.5 514,162 518.4,162.8" stroke-width="1" fill="none" />
<path d="M522,159 C521,150 519,142 515.5,134.5 C512.5,128.5 508,126 505.5,127.5 C502.5,129.5 503,136 505,142 C508,150 513,156 520,160" stroke-width="0.9" fill="none" />
<path d="M483.7,50.3 L480.1,79 L471,80.2" stroke-width="0.9" fill="none" />
<path d="M499.3,52.7 L493.3,77.8 L471.5,82" stroke-width="0.9" fill="none" />
<path d="M500.5,52.7 L513.6,56.5 L513.6,74 C513.5,76.5 511.5,77.5 509.5,77 L502.5,75 C500.8,74.5 500.3,73 500.5,71 Z" stroke-width="1" fill="none" />
<circle cx="508.1" cy="63.5" r="1.3" stroke-width="0.9" fill="none"/>
<path d="M534.2,175 C534,168 535.5,161 540,158.5 C544.5,156.5 549.5,157.5 553,161 C555.5,164 556,168 556.2,172 L558.5,412 C558.5,416 556.5,418 553.5,418 L539.5,418 C537.5,418 536.5,416 536.3,413 Z" stroke-width="1" fill="none" />
<path d="M543.4,167 C543.5,164.5 545,163.5 546.5,164 C548,164.5 548.7,165.5 548.7,167 L551.4,406 C551.4,408 550.3,408.8 548.7,408.8 C547,408.8 546,408 546,406 Z" stroke-width="0.9" fill="none" />
<line x1="521.5" y1="169" x2="524.7" y2="368" stroke-width="0.9"/>
<path d="M547.8,423 C552,421 556,418 557.5,413" stroke-width="0.9" fill="none" />
<path d="M532.1,217 C532,211 535,207.5 540,206.5 C545,206 550.5,208 552.5,213 L552.5,226.8 L540,223.5 C536,222.5 533,221 532.1,217 Z" stroke-width="1" fill="#fff" />
<circle cx="546.6" cy="215.8" r="1.5" stroke-width="0.9" fill="none"/>
<path d="M523.8,276.5 L502.9,274.7 C499,275 497,279 497.5,283.7 C498,287 500,290 506.5,295.7 C512,301 516,306 518.4,308.9 L528,324.4" stroke-width="1" fill="#fff" />
<path d="M519.6,282.5 C518.5,290 519.5,300 521.4,306.5" stroke-width="0.9" fill="none" />
<ellipse cx="507.7" cy="286.1" rx="4.3" ry="6" transform="rotate(-25 507.7 286.1)" stroke-width="1.1" fill="#fff" />
<ellipse cx="508.2" cy="286.1" rx="2.8" ry="4" transform="rotate(-25 508.2 286.1)" stroke-width="0.9" fill="none" />
<circle cx="508.5" cy="286.1" r="1.2" stroke-width="1" fill="#000"/>
<path d="M526.8,370.5 L506.5,367.5 C503.5,368 502.5,370 502.9,371.1 C503,374 503.5,376 504.1,377.1 C505,380 507,383 508.9,385.5 C513,390 517,393 519.6,396.2 L526.8,407" stroke-width="1" fill="#fff" />
<ellipse cx="513.6" cy="379.5" rx="4.3" ry="6" transform="rotate(-25 513.6 379.5)" stroke-width="1.1" fill="#fff" />
<ellipse cx="514.1" cy="379.5" rx="2.8" ry="4" transform="rotate(-25 514.1 379.5)" stroke-width="0.9" fill="none" />
<circle cx="514.4" cy="379.5" r="1.2" stroke-width="1" fill="#000"/>
<line x1="523" y1="54.9" x2="561.3" y2="33.2" stroke-width="1"/>
<ellipse cx="546.0527272727272" cy="41.92181818181818" rx="5.589090909090909" ry="6.552727272727273" transform="rotate(25 546.0527272727272 41.92181818181818)" stroke-width="1.6" fill="#fff" />
<ellipse cx="544.8" cy="42.5" rx="5.589090909090909" ry="6.552727272727273" transform="rotate(25 544.8 42.5)" stroke-width="1.8" fill="#fff" />
<ellipse cx="544.8" cy="42.5" rx="3.083636363636364" ry="3.6618181818181816" transform="rotate(25 544.8 42.5)" stroke-width="0.8" fill="none" />
<circle cx="544.8" cy="42.5" r="0.9636363636363636" stroke-width="1" fill="#000"/>
<line x1="525.1" y1="28" x2="540.6" y2="37.3" stroke-width="1"/>
<line x1="411.1" y1="119.8" x2="508.5" y2="63.2" stroke-width="1"/>
<ellipse cx="426.5" cy="111.4" rx="7.2" ry="8.8" transform="rotate(25 426.5 111.4)" stroke-width="1.1" fill="#fff" />
<ellipse cx="427.3" cy="111.0" rx="6.2" ry="7.6" transform="rotate(25 427.3 111.0)" stroke-width="0.9" fill="none" />
<ellipse cx="425.2" cy="112.30000000000001" rx="3.9" ry="4.7" transform="rotate(25 425.2 112.30000000000001)" stroke-width="2.0" fill="#fff" />
<circle cx="425.0" cy="112.4" r="1.5" stroke-width="1.2" fill="#000"/>
<ellipse cx="453.8" cy="95.7" rx="5.8" ry="6.8" transform="rotate(25 453.8 95.7)" stroke-width="1.6" fill="#fff" />
<ellipse cx="452.5" cy="96.3" rx="5.8" ry="6.8" transform="rotate(25 452.5 96.3)" stroke-width="1.8" fill="#fff" />
<ellipse cx="452.5" cy="96.3" rx="3.2" ry="3.8" transform="rotate(25 452.5 96.3)" stroke-width="0.8" fill="none" />
<circle cx="452.5" cy="96.3" r="1.0" stroke-width="1" fill="#000"/>
<line x1="431.8" y1="81.9" x2="447.4" y2="91.2" stroke-width="1"/>
<line x1="404.9" y1="94.3" x2="420.4" y2="103.6" stroke-width="1"/>
<line x1="569.1" y1="86" x2="554.8" y2="93.2" stroke-width="1"/>
<line x1="489.2" y1="249.5" x2="546.6" y2="215.8" stroke-width="1"/>
<ellipse cx="497" cy="245.6" rx="7.2" ry="8.8" transform="rotate(25 497 245.6)" stroke-width="1.1" fill="#fff" />
<ellipse cx="497.8" cy="245.2" rx="6.2" ry="7.6" transform="rotate(25 497.8 245.2)" stroke-width="0.9" fill="none" />
<ellipse cx="495.7" cy="246.5" rx="3.9" ry="4.7" transform="rotate(25 495.7 246.5)" stroke-width="2.0" fill="#fff" />
<circle cx="495.5" cy="246.6" r="1.5" stroke-width="1.2" fill="#000"/>
<ellipse cx="516.2527272727273" cy="234.62181818181818" rx="5.589090909090909" ry="6.552727272727273" transform="rotate(25 516.2527272727273 234.62181818181818)" stroke-width="1.6" fill="#fff" />
<ellipse cx="515" cy="235.2" rx="5.589090909090909" ry="6.552727272727273" transform="rotate(25 515 235.2)" stroke-width="1.8" fill="#fff" />
<ellipse cx="515" cy="235.2" rx="3.083636363636364" ry="3.6618181818181816" transform="rotate(25 515 235.2)" stroke-width="0.8" fill="none" />
<circle cx="515" cy="235.2" r="0.9636363636363636" stroke-width="1" fill="#000"/>
<line x1="461.4" y1="314" x2="507.7" y2="286.1" stroke-width="1"/>
<ellipse cx="476" cy="305.6" rx="7.2" ry="8.8" transform="rotate(25 476 305.6)" stroke-width="1.1" fill="#fff" />
<ellipse cx="476.8" cy="305.20000000000005" rx="6.2" ry="7.6" transform="rotate(25 476.8 305.20000000000005)" stroke-width="0.9" fill="none" />
<ellipse cx="474.7" cy="306.5" rx="3.9" ry="4.7" transform="rotate(25 474.7 306.5)" stroke-width="2.0" fill="#fff" />
<circle cx="474.5" cy="306.6" r="1.5" stroke-width="1.2" fill="#000"/>
<ellipse cx="495.75272727272727" cy="294.9218181818182" rx="5.589090909090909" ry="6.552727272727273" transform="rotate(25 495.75272727272727 294.9218181818182)" stroke-width="1.6" fill="#fff" />
<ellipse cx="494.5" cy="295.5" rx="5.589090909090909" ry="6.552727272727273" transform="rotate(25 494.5 295.5)" stroke-width="1.8" fill="#fff" />
<ellipse cx="494.5" cy="295.5" rx="3.083636363636364" ry="3.6618181818181816" transform="rotate(25 494.5 295.5)" stroke-width="0.8" fill="none" />
<circle cx="494.5" cy="295.5" r="0.9636363636363636" stroke-width="1" fill="#000"/>
<line x1="468.5" y1="405.5" x2="513.6" y2="379.5" stroke-width="1"/>
<ellipse cx="483.5" cy="397.6" rx="7.2" ry="8.8" transform="rotate(25 483.5 397.6)" stroke-width="1.1" fill="#fff" />
<ellipse cx="484.3" cy="397.20000000000005" rx="6.2" ry="7.6" transform="rotate(25 484.3 397.20000000000005)" stroke-width="0.9" fill="none" />
<ellipse cx="482.2" cy="398.5" rx="3.9" ry="4.7" transform="rotate(25 482.2 398.5)" stroke-width="2.0" fill="#fff" />
<circle cx="482.0" cy="398.6" r="1.5" stroke-width="1.2" fill="#000"/>
<ellipse cx="502.25272727272727" cy="386.7218181818182" rx="5.589090909090909" ry="6.552727272727273" transform="rotate(25 502.25272727272727 386.7218181818182)" stroke-width="1.6" fill="#fff" />
<ellipse cx="501" cy="387.3" rx="5.589090909090909" ry="6.552727272727273" transform="rotate(25 501 387.3)" stroke-width="1.8" fill="#fff" />
<ellipse cx="501" cy="387.3" rx="3.083636363636364" ry="3.6618181818181816" transform="rotate(25 501 387.3)" stroke-width="0.8" fill="none" />
<circle cx="501" cy="387.3" r="0.9636363636363636" stroke-width="1" fill="#000"/>
<line x1="578" y1="199.2" x2="602" y2="185.2" stroke-width="1"/>
<ellipse cx="594.2527272727273" cy="190.12181818181818" rx="5.589090909090909" ry="6.552727272727273" transform="rotate(25 594.2527272727273 190.12181818181818)" stroke-width="1.6" fill="#fff" />
<ellipse cx="593" cy="190.7" rx="5.589090909090909" ry="6.552727272727273" transform="rotate(25 593 190.7)" stroke-width="1.8" fill="#fff" />
<ellipse cx="593" cy="190.7" rx="3.083636363636364" ry="3.6618181818181816" transform="rotate(25 593 190.7)" stroke-width="0.8" fill="none" />
<circle cx="593" cy="190.7" r="0.9636363636363636" stroke-width="1" fill="#000"/>
<line x1="578" y1="246.1" x2="602" y2="232.1" stroke-width="1"/>
<ellipse cx="594.2527272727273" cy="237.02181818181816" rx="5.589090909090909" ry="6.552727272727273" transform="rotate(25 594.2527272727273 237.02181818181816)" stroke-width="1.6" fill="#fff" />
<ellipse cx="593" cy="237.6" rx="5.589090909090909" ry="6.552727272727273" transform="rotate(25 593 237.6)" stroke-width="1.8" fill="#fff" />
<ellipse cx="593" cy="237.6" rx="3.083636363636364" ry="3.6618181818181816" transform="rotate(25 593 237.6)" stroke-width="0.8" fill="none" />
<circle cx="593" cy="237.6" r="0.9636363636363636" stroke-width="1" fill="#000"/>
<line x1="578" y1="341.8" x2="602" y2="327.8" stroke-width="1"/>
<ellipse cx="594.2527272727273" cy="332.7218181818182" rx="5.589090909090909" ry="6.552727272727273" transform="rotate(25 594.2527272727273 332.7218181818182)" stroke-width="1.6" fill="#fff" />
<ellipse cx="593" cy="333.3" rx="5.589090909090909" ry="6.552727272727273" transform="rotate(25 593 333.3)" stroke-width="1.8" fill="#fff" />
<ellipse cx="593" cy="333.3" rx="3.083636363636364" ry="3.6618181818181816" transform="rotate(25 593 333.3)" stroke-width="0.8" fill="none" />
<circle cx="593" cy="333.3" r="0.9636363636363636" stroke-width="1" fill="#000"/>
<line x1="372.5" y1="192.1" x2="439.5" y2="229.4" stroke-width="1"/>
<line x1="439.5" y1="229.4" x2="439.5" y2="505.7" stroke-width="1"/>
<line x1="439.5" y1="505.7" x2="546.5" y2="567.2" stroke-width="1"/>
<line x1="546.5" y1="567.2" x2="546.5" y2="521" stroke-width="1"/>
<line x1="506.9" y1="436.2" x2="525" y2="443.4" stroke-width="1"/>
<rect x="521.5" y="448.5" width="58" height="19" rx="9.5" transform="rotate(25 550.5 458)" stroke-width="1" fill="#fff" />
<rect x="521.3" y="444.0" width="58" height="19" rx="9.5" transform="rotate(25 550.3 453.5)" stroke-width="1.1" fill="#fff" />
<rect x="524.8" y="447.3" width="52" height="14" rx="7.0" transform="rotate(25 550.8 454.3)" stroke-width="0.9" fill="#fff" />
<line x1="506.9" y1="488.7" x2="521.4" y2="495.9" stroke-width="1"/>
<g transform="rotate(25 552 529)"><rect x="515" y="519" width="74" height="24" rx="4" fill="#fff" stroke-width="1"/><rect x="515" y="515.5" width="74" height="24" rx="4" fill="#fff" stroke-width="1"/></g>
<rect x="520.0" y="510.0" width="64" height="24" rx="6" transform="rotate(25 552 522.0)" stroke-width="1.1" fill="#fff" />
<rect x="521.0" y="509.70000000000005" width="62" height="22" rx="5.5" transform="rotate(25 552 520.7)" stroke-width="0.7" fill="none" />
<rect x="520.0" y="506.29999999999995" width="64" height="24" rx="6" transform="rotate(25 552 518.3)" stroke-width="1.1" fill="#fff" />
<rect x="521.0" y="506.0" width="62" height="22" rx="5.5" transform="rotate(25 552 517.0)" stroke-width="0.7" fill="none" />
<rect x="520.0" y="502.6" width="64" height="24" rx="6" transform="rotate(25 552 514.6)" stroke-width="1.1" fill="#fff" />
<rect x="521.0" y="502.30000000000007" width="62" height="22" rx="5.5" transform="rotate(25 552 513.3000000000001)" stroke-width="0.7" fill="none" />
<rect x="520.0" y="498.9" width="64" height="24" rx="6" transform="rotate(25 552 510.9)" stroke-width="1.1" fill="#fff" />
<rect x="521.0" y="498.59999999999997" width="62" height="22" rx="5.5" transform="rotate(25 552 509.59999999999997)" stroke-width="0.7" fill="none" />
<rect x="520.0" y="495.2" width="64" height="24" rx="6" transform="rotate(25 552 507.2)" stroke-width="1.1" fill="#fff" />
<rect x="521.0" y="494.9" width="62" height="22" rx="5.5" transform="rotate(25 552 505.9)" stroke-width="0.7" fill="none" />
<rect x="520.0" y="491.5" width="64" height="24" rx="6" transform="rotate(25 552 503.5)" stroke-width="1.1" fill="#fff" />
<rect x="521.0" y="491.2" width="62" height="22" rx="5.5" transform="rotate(25 552 502.2)" stroke-width="0.7" fill="none" />
<ellipse cx="551.8" cy="497.8" rx="29" ry="11.5" transform="rotate(27 551.8 497.8)" stroke-width="1.5" fill="#fff" />
<ellipse cx="552.8" cy="499.5" rx="23.5" ry="8" transform="rotate(27 552.8 499.5)" stroke-width="0.9" fill="#fff" />
<ellipse cx="553.5" cy="501.5" rx="18" ry="4.8" transform="rotate(27 553.5 501.5)" stroke-width="0.9" fill="none" />
<line x1="546.5" y1="425" x2="546.5" y2="503" stroke-width="1"/>
<path d="M536.3,610.4 L540.2,595 C542,591.5 547,589.5 551.8,589.6 L575,591.1 C578.5,591.5 581,593 581.2,595 L578.1,607.4 C577,610 575,612 571.9,613.5 L561,618.2 C555,619.5 547,619 541,616.6 L536.3,614.3 Z" stroke-width="1" fill="#fff" />
<path d="M536.3,610.4 C538,612.5 541,613.3 544,613.5 L561,614.3 C567,614 572,611.5 575,608.5 L578.1,604" stroke-width="0.9" fill="none" />
<line x1="541" y1="613.5" x2="541" y2="616.6" stroke-width="0.8"/>
<line x1="561" y1="614.3" x2="561" y2="618.2" stroke-width="0.8"/>
<ellipse cx="542.2" cy="608.1" rx="2.2" ry="1.4" transform="rotate(0 542.2 608.1)" stroke-width="0.9" fill="none" />
<ellipse cx="575.7" cy="593.1" rx="2.2" ry="1.4" transform="rotate(0 575.7 593.1)" stroke-width="0.9" fill="none" />
<path d="M550.2,596.5 C549.5,591 551,587.5 554.9,585.7 C557.5,582 560,580.5 564.1,579.5 L585.8,571.8 L625.3,560.9 C628,562 630,570 630.7,579.5 L591.2,589.6 L571.9,593.4 C570,596 569.5,598 568.8,598.1 C564,601.5 556,601.5 552,599.5 C550.8,598.5 550.3,597.5 550.2,596.5 Z" stroke-width="1" fill="#fff" />
<path d="M585.8,571.8 C588,576 590.5,582 591.2,589.6" stroke-width="0.9" fill="none" />
<line x1="630.7" y1="569.4" x2="650" y2="564.8" stroke-width="1"/>
<path d="M600,567.4 L626.2,560.8 C629,561 631,570 631.5,577.9 L600,588.4" stroke-width="1" fill="#fff" />
<line x1="631.5" y1="568.7" x2="691.8" y2="553" stroke-width="1"/>
<ellipse cx="661.5" cy="565" rx="9" ry="14.5" transform="rotate(-12 661.5 565)" stroke-width="3.6" fill="none" />
<ellipse cx="661.5" cy="565" rx="9" ry="14.5" transform="rotate(-12 661.5 565)" stroke-width="1.3" fill="none" stroke="#fff" stroke-dasharray="0.6 1.5" stroke-linecap="butt"/>
<g transform="translate(671.5 578) rotate(60)"><rect x="-5" y="-3.5" width="10" height="7" rx="1" fill="#fff" stroke-width="1.1"/><line x1="-5" y1="0" x2="5" y2="0" stroke-width="0.8"/><circle cx="5.5" cy="1.5" r="1.4" fill="#000"/></g>
<line x1="687.9" y1="591" x2="674.8" y2="581.8" stroke-width="1"/>
<path d="M693.2,541.2 L735.1,529.4 C739,528.8 743,529.2 747,530.7 L781,539.9 C786,538.5 790,535.5 796.8,532 C803,528.5 809,525.8 814.4,525.2 C819,525 824,527 827,530.5 C828.5,532.5 829.3,535 829.3,538.7 C833,540 836,542 837.4,544.8 C838.8,548 838.8,551.5 838.1,554.3 C836.5,558.5 834,560.8 830.7,561.7 C828,562.3 825,562.3 822.5,561.7 C819,561 816,558 813,554.3 C809,556.5 806,557.5 804.7,558.2 C799,562 794,564 789,564.8 L773.2,564.8 L737.8,554.3 L699.7,564.8 C697,564.5 694.5,559 693,552 C692.5,547 692.5,543.5 693.2,541.2 Z" stroke-width="1" fill="#fff" />
<path d="M813,554.3 C815,558.5 819,561.5 824,562 C829,562.5 834,560.5 836.8,557" stroke-width="2.2" fill="none" />
<path d="M829.3,538.7 C830,543 827,548 822,550.5 C819,551.8 817,552 814.5,551.5" stroke-width="1" fill="none" />
<path d="M811.7,554.3 L817.8,549.6" stroke-width="0.9" fill="none" />
<path d="M734.5,529.6 C732.5,537 733.5,547 737.8,554.3" stroke-width="0.9" fill="none" />
<path d="M747,530.7 C744.5,538 743.5,548 745.5,556.5" stroke-width="0.9" fill="none" />
<path d="M773.2,542 C773,549 773,557 773.2,564.8" stroke-width="0.9" fill="none" />
<path d="M796.8,532 C800,540 802.5,550 804.7,558.2" stroke-width="0.9" fill="none" />
<line x1="764" y1="533.3" x2="781" y2="524.1" stroke-width="1"/>
<line x1="836.2" y1="556.9" x2="872.9" y2="579.2" stroke-width="1"/>
<ellipse cx="858.4" cy="571.9" rx="12.3" ry="13.2" transform="rotate(20 858.4 571.9)" stroke-width="3.6" fill="none" />
<ellipse cx="858.4" cy="571.9" rx="12.3" ry="13.2" transform="rotate(20 858.4 571.9)" stroke-width="1.3" fill="none" stroke="#fff" stroke-dasharray="0.6 1.5" stroke-linecap="butt"/>
<g transform="translate(849 588) rotate(30)"><rect x="-5" y="-3.5" width="10" height="7" rx="1" fill="#fff" stroke-width="1.1"/><line x1="-5" y1="0" x2="5" y2="0" stroke-width="0.8"/><circle cx="5.5" cy="1.5" r="1.4" fill="#000"/></g>
<line x1="832.2" y1="600.2" x2="848" y2="591" stroke-width="1"/>
<line x1="706" y1="181.8" x2="773.9" y2="100.5" stroke-width="1"/>
<ellipse cx="751.2" cy="114.9" rx="5.6" ry="12.4" transform="rotate(-45 751.2 114.9)" stroke-width="3.6" fill="none" />
<ellipse cx="751.2" cy="114.9" rx="5.6" ry="12.4" transform="rotate(-45 751.2 114.9)" stroke-width="1.3" fill="none" stroke="#fff" stroke-dasharray="0.6 1.5" stroke-linecap="butt"/>
<g transform="translate(742 108.5) rotate(-45)"><rect x="-5" y="-3.5" width="10" height="7" rx="1" fill="#fff" stroke-width="1.1"/><line x1="-5" y1="0" x2="5" y2="0" stroke-width="0.8"/><circle cx="5.5" cy="1.5" r="1.4" fill="#000"/></g>
<line x1="727.3" y1="92.1" x2="734.6" y2="105.6" stroke-width="1"/>
<path d="M732.2,128.7 L721.9,148.1 C721.5,152.5 726,156.5 731,157.6 C735.5,158.5 738.5,158 739.2,157.3 L749.5,137.9 Z" stroke-width="1" fill="#fff" />
<ellipse cx="740.8" cy="133.3" rx="9.8" ry="4.6" transform="rotate(28 740.8 133.3)" stroke-width="1.1" fill="#fff" />
<ellipse cx="740.8" cy="133.3" rx="7" ry="3" transform="rotate(28 740.8 133.3)" stroke-width="0.9" fill="none" />
<path d="M728.9,134.9 A9.8,4.6 28 0 0 746.2,144.1" stroke-width="1" fill="none"/>
<path d="M727.7,137.1 A9.8,4.6 28 0 0 745.0,146.3" stroke-width="1" fill="none"/>
<path d="M726.3,139.8 A9.8,4.6 28 0 0 743.6,149.0" stroke-width="1" fill="none"/>
<line x1="712.9" y1="126.3" x2="726.4" y2="134.4" stroke-width="1"/>
<ellipse cx="714.9" cy="169.4" rx="6" ry="12" transform="rotate(-45 714.9 169.4)" stroke-width="3.6" fill="none" />
<ellipse cx="714.9" cy="169.4" rx="6" ry="12" transform="rotate(-45 714.9 169.4)" stroke-width="1.3" fill="none" stroke="#fff" stroke-dasharray="0.6 1.5" stroke-linecap="butt"/>
<g transform="translate(705.5 162.5) rotate(-45)"><rect x="-5" y="-3.5" width="10" height="7" rx="1" fill="#fff" stroke-width="1.1"/><line x1="-5" y1="0" x2="5" y2="0" stroke-width="0.8"/><circle cx="5.5" cy="1.5" r="1.4" fill="#000"/></g>
<line x1="687.1" y1="153.4" x2="703.4" y2="162.9" stroke-width="1"/>
<path d="M770.1,77.9 C772,75 775,73 779.1,72.3 C781,72 784,72.5 785.8,72.9 L803.6,74.5 C808.0,77.0 820.6,84.1 830.0,89.6 C839.4,95.1 848.8,100.7 860.0,107.5 C871.2,114.3 891.2,126.5 897.4,130.3 C900,133 901.8,137 901.7,140.4 C901.5,145 899,149 896,150.4 C893,152 890,152.8 887.4,152.4 C882.8,149.4 869.6,140.7 860.0,134.5 C850.4,128.3 841.2,121.7 830.0,115.3 C818.8,108.9 799.2,99.5 793.0,96.3 L784.7,88.5 L780.2,88.5 L771.8,103 C769,104 767,103.5 766.8,103 L759.5,98 C758,97 757.8,95.5 758.4,94.6 Z" stroke-width="1" fill="#fff" />
<path d="M770.1,77.9 C770,80 770.5,82 771.3,82.9 C773,85 774.5,86 775.7,86.8 C777,87.5 778.5,88.2 780.2,88.5" stroke-width="0.9" fill="none" />
<path d="M782.4,72.9 C783.5,78 784.5,83 785.8,88.5" stroke-width="0.9" fill="none" />
<path d="M803.6,74.5 C799,77 796,80 794.7,82.9 C793,87 792.5,92 793,96.3" stroke-width="0.9" fill="none" />
<line x1="868.7" y1="90.1" x2="851.5" y2="98.8" stroke-width="1"/>
<line x1="900.3" y1="149" x2="987.9" y2="216.5" stroke-width="1"/>
<line x1="987.9" y1="216.5" x2="804.3" y2="394" stroke-width="1"/>
<line x1="804.3" y1="394" x2="816" y2="401.8" stroke-width="1"/>
<ellipse cx="914.8" cy="161.5" rx="12.2" ry="13.6" transform="rotate(20 914.8 161.5)" stroke-width="3.6" fill="none" />
<ellipse cx="914.8" cy="161.5" rx="12.2" ry="13.6" transform="rotate(20 914.8 161.5)" stroke-width="1.3" fill="none" stroke="#fff" stroke-dasharray="0.6 1.5" stroke-linecap="butt"/>
<g transform="translate(906.5 175.5) rotate(-20)"><rect x="-5" y="-3.5" width="10" height="7" rx="1" fill="#fff" stroke-width="1.1"/><line x1="-5" y1="0" x2="5" y2="0" stroke-width="0.8"/><circle cx="5.5" cy="1.5" r="1.4" fill="#000"/></g>
<line x1="939" y1="140.4" x2="921.8" y2="149" stroke-width="1"/>
<ellipse cx="950.5" cy="191" rx="15" ry="17.5" transform="rotate(-12 950.5 191)" stroke-width="1" fill="#fff" />
<ellipse cx="948" cy="188.5" rx="15" ry="17.5" transform="rotate(-12 948 188.5)" stroke-width="1" fill="#fff" />
<ellipse cx="945.5" cy="186" rx="15" ry="17.5" transform="rotate(-12 945.5 186)" stroke-width="1" fill="#fff" />
<ellipse cx="943" cy="183.5" rx="15" ry="17.5" transform="rotate(-12 943 183.5)" stroke-width="1" fill="#fff" />
<ellipse cx="940.5" cy="181" rx="15" ry="17.5" transform="rotate(-12 940.5 181)" stroke-width="1.1" fill="#fff" />
<ellipse cx="942.5" cy="183.5" rx="8.8" ry="10.5" transform="rotate(-12 942.5 183.5)" stroke-width="1" fill="#fff" />
<path d="M936.5,177 A8.8,10.5 -12 0 1 950,187" stroke-width="0.9" fill="none" />
<line x1="930" y1="172.8" x2="948" y2="186.6" stroke-width="0.9"/>
<line x1="972.1" y1="164.8" x2="954.8" y2="173.4" stroke-width="1"/>
<ellipse cx="972.3" cy="206.7" rx="12.2" ry="13.6" transform="rotate(20 972.3 206.7)" stroke-width="3.6" fill="none" />
<ellipse cx="972.3" cy="206.7" rx="12.2" ry="13.6" transform="rotate(20 972.3 206.7)" stroke-width="1.3" fill="none" stroke="#fff" stroke-dasharray="0.6 1.5" stroke-linecap="butt"/>
<g transform="translate(964 221) rotate(-20)"><rect x="-5" y="-3.5" width="10" height="7" rx="1" fill="#fff" stroke-width="1.1"/><line x1="-5" y1="0" x2="5" y2="0" stroke-width="0.8"/><circle cx="5.5" cy="1.5" r="1.4" fill="#000"/></g>
<line x1="996.5" y1="187.8" x2="982.1" y2="195" stroke-width="1"/>
<path d="M865.8,414.5 L975,478.6 L975.1,597.2 L865.7,535.8 Z" stroke-width="1" fill="#fff" />
<path d="M852.4,398.5 L863.9,400.1 L1002.8,477.7 L990.3,484.4 L975,478.6 L866.8,414.5 L853.3,413.4 Z" stroke-width="1" fill="#fff" />
<path d="M853.3,413.4 L853.4,529.2 L865.7,535.8 L865.8,414.5 Z" stroke-width="1" fill="#fff" />
<path d="M842.5,432.4 C846,437 849.5,446 851.5,456 C853,466 853.3,475 853.3,485 L853.4,529.2" stroke-width="1" fill="none" />
<line x1="866" y1="414.5" x2="866" y2="535.8" stroke-width="2"/>
<path d="M833,403.9 C842,406 849,410 850.6,418 C851.5,424 850,429 846.5,431 C842,433 838,433 835.7,432.4 C830,431 826,429.5 822.1,425.6 Z" stroke-width="1" fill="#fff" />
<line x1="833" y1="403.9" x2="852.4" y2="400.2" stroke-width="1"/>
<line x1="838.5" y1="408.5" x2="852.4" y2="405.5" stroke-width="0.9"/>
<ellipse cx="823.8" cy="411.3" rx="10.8" ry="12" transform="rotate(38 823.8 411.3)" stroke-width="1.3" fill="#fff" />
<ellipse cx="824.5" cy="410.8" rx="9" ry="10.2" transform="rotate(38 824.5 410.8)" stroke-width="0.9" fill="none" />
<line x1="816" y1="401.8" x2="830.5" y2="418.5" stroke-width="0.9"/>
<path d="M852.4,398.5 L859,396.5 L863.9,400.1 L863.9,411.6 L857,413.5 L852.4,411.6 Z" stroke-width="1" fill="#fff" />
<line x1="852.4" y1="398.5" x2="857.5" y2="401.5" stroke-width="0.8"/>
<line x1="857.5" y1="401.5" x2="857" y2="413.5" stroke-width="0.8"/>
<line x1="857.5" y1="401.5" x2="863.9" y2="400.1" stroke-width="0.8"/>
<circle cx="854.8" cy="406" r="1.2" stroke-width="0.9" fill="none"/>
<path d="M853.4,492.3 L848.5,494.5 C846.5,495.5 846.7,497 846.7,499 L846.7,508 L853.4,509.1" stroke-width="1" fill="#fff" />
<circle cx="849.3" cy="502.4" r="1.1" stroke-width="0.9" fill="none"/>
<line x1="859.1" y1="401.1" x2="875.4" y2="394.4" stroke-width="1"/>
<g transform="translate(875.5 394.5) rotate(-33)"><rect x="0" y="-1.7" width="6.5" height="3.4" fill="#fff" stroke-width="0.9"/><line x1="0.5" y1="0" x2="6" y2="0" stroke-width="2.6" stroke-dasharray="0.8 0.7" stroke-linecap="butt"/><ellipse cx="8" cy="0" rx="2" ry="2.8" fill="#111" stroke-width="0.8"/></g>
<line x1="881.2" y1="394.4" x2="896.5" y2="403" stroke-width="1"/>
<line x1="927.1" y1="434.6" x2="942.5" y2="425" stroke-width="1"/>
<path d="M975,470 L978.4,470 L990.7,478.9 L1001.9,476.7 L1017.5,496.8 C1020,501 1021,506 1019.7,510.2 C1018,515 1012,520 1006,524 C1002.5,527 1002,530 1002,534 L1002,599.5 L987.5,605 L975.1,598.3 Z" stroke-width="1" fill="#fff" />
<path d="M990.7,478.9 L999.6,487.9 L1017.5,496.8" stroke-width="0.9" fill="none" />
<path d="M987.5,605 L987.5,540 C987.5,533 992,526.5 999.6,521.3" stroke-width="1" fill="none" />
<line x1="975.5" y1="478.6" x2="975.5" y2="597.2" stroke-width="1"/>
<path d="M979.8,473 L986,471.3 L990.3,474.5 L990.3,484.4 L983.8,486 L979.8,484 Z" stroke-width="1" fill="#fff" />
<line x1="979.8" y1="473" x2="984.5" y2="475.5" stroke-width="0.8"/>
<line x1="984.5" y1="475.5" x2="984" y2="486" stroke-width="0.8"/>
<line x1="984.5" y1="475.5" x2="990.3" y2="474.5" stroke-width="0.8"/>
<circle cx="982" cy="479.3" r="1.1" stroke-width="0.9" fill="none"/>
<path d="M986.3,494.6 C991,495 996,499 998.5,506 C999.5,511 998.5,517 995.2,521.3 C991,523.5 986,523.5 981.8,522.5 Z" stroke-width="1" fill="#fff" />
<ellipse cx="981.5" cy="506.8" rx="11" ry="13" transform="rotate(-25 981.5 506.8)" stroke-width="1.5" fill="#fff" />
<ellipse cx="982.3" cy="506.3" rx="9.3" ry="11.3" transform="rotate(-25 982.3 506.3)" stroke-width="0.9" fill="none" />
<path d="M994,511 L996.5,510 L996.5,516 L994,517" stroke-width="1.2" fill="none" />
<line x1="871.3" y1="583.8" x2="963.9" y2="491.2" stroke-width="1"/>
<line x1="963.9" y1="491.2" x2="986.3" y2="510.2" stroke-width="1"/>
<path d="M986.3,574 L993,570.4 C995,570.5 996.3,572 996.3,574 L996.3,591.7 L990,590 L986.3,587 Z" stroke-width="1" fill="#fff" />
<circle cx="990.3" cy="583.8" r="1.1" stroke-width="0.9" fill="none"/>
<line x1="981.8" y1="590.5" x2="1016.4" y2="569.3" stroke-width="1"/>
<g transform="translate(1014 570.5) rotate(-30)"><rect x="0" y="-1.7" width="6.5" height="3.4" fill="#fff" stroke-width="0.9"/><line x1="0.5" y1="0" x2="6" y2="0" stroke-width="2.6" stroke-dasharray="0.8 0.7" stroke-linecap="butt"/><ellipse cx="8" cy="0" rx="2" ry="2.8" fill="#111" stroke-width="0.8"/></g>
<line x1="1035" y1="580.7" x2="1024.5" y2="573.5" stroke-width="1"/>
<line x1="233" y1="522.4" x2="247.5" y2="513.5" stroke-width="1"/>
<path d="M178,497.5 L194,489.5 L196,493 L180,501 Z" stroke-width="0.9" fill="#fff" />
<path d="M1050.5,9.5 L1050.5,7.5 L1052.5,7.5 L1054,5.5 L1056.5,5.5 L1056.8,6.8 L1054.5,7.5 L1052.5,9.8 Z" fill="#aaa" stroke="none"/>
<rect x="1059" y="7" width="8" height="3" fill="#b0b0b0" stroke="none"/>
</g>
<g transform="matrix(1.0554,-0.9800,0.9481,0.9844,282.01,601.92)"><text x="0" y="0" font-family="Liberation Sans" font-weight="bold" font-size="100" fill="none" stroke="#444" stroke-width="0.75">zap-kam.ru</text></g>
<g font-family="Liberation Serif" font-size="19" fill="#222" stroke="#fff" stroke-width="0.35" text-anchor="middle">
<text x="55.3" y="107">1</text>
<text x="110.5" y="137">2</text>
<text x="124.3" y="144">3</text>
<text x="145.7" y="154.5">4</text>
<text x="216.8" y="180">5</text>
<text x="264.3" y="217.4">6</text>
<text x="249.8" y="102">30</text>
<text x="380" y="158.7">17</text>
<text x="295.6" y="338">16</text>
<text x="163" y="360.4">7</text>
<text x="114.3" y="426.8">8</text>
<text x="30.7" y="463.5">9</text>
<text x="66.2" y="547.2">10</text>
<text x="120.7" y="571">11</text>
<text x="158.4" y="499.4">12</text>
<text x="225.2" y="534">13</text>
<text x="300" y="393.5">14</text>
<text x="411" y="387.7">15</text>
<text x="386.7" y="422.2">7</text>
<text x="346" y="448">7</text>
<text x="397.3" y="95.8">18</text>
<text x="423.5" y="82.9">19</text>
<text x="517" y="29.4">19</text>
<text x="583.5" y="85.5">20</text>
<text x="499.1" y="439.8">21</text>
<text x="497.8" y="492.3">22</text>
<text x="714.7" y="100.5">23</text>
<text x="704.6" y="127">24</text>
<text x="678.5" y="155.3">23</text>
<text x="880" y="91.6">25</text>
<text x="946.2" y="140.4">5</text>
<text x="982.4" y="165.7">26</text>
<text x="1004.4" y="188.6">5</text>
<text x="908.2" y="414.7">27</text>
<text x="954.4" y="426.3">28</text>
<text x="1046.5" y="591.2">17</text>
<text x="791.5" y="526.2">29</text>
<text x="696" y="603.4">5</text>
<text x="828.3" y="612.8">5</text>
</g>
</svg>
</body></html>
